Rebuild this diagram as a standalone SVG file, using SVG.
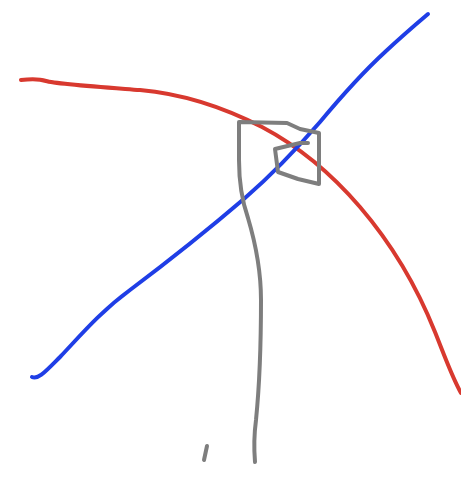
<svg xmlns="http://www.w3.org/2000/svg" width="461" height="481" viewBox="0 0 461 481">
<style>
.s{fill:none;stroke-linecap:round;stroke-linejoin:round;stroke-width:4}
.red{stroke:#d8392f}
.blue{stroke:#1f3ee6}
.gray{stroke:#7e7e7e}
</style>
<rect width="461" height="481" fill="#ffffff"/>
<g id="red-curve">
<path class="s red" d="M21,80 C30,79 40,79 46,81 C55,84 100,87 140,90 C185,94 225,108 262,127 C298,146 330,172 360,207 C390,242 415,282 435,332 C445,357 452,377 461,393"/>
</g>
<g id="blue-line">
<path class="s blue" d="M32,377 C38,380 45,372 60,357 C80,336 100,312 130,290 C170,260 210,228 245,198 C275,172 300,145 320,122 C340,98 360,75 385,52 C400,38 415,25 428,14"/>
</g>
<g id="gray-shape">
<path class="s gray" d="M255,462 C254,450 254,435 256,420 C259,390 261,340 261,300 C261,270 256,245 248,218 C241,198 239,178 239,160 L239,122 L287,123 L300,129 L319,133 L319,184 L298,179 L278,172 L275,149 L300,143 L308,143"/>
<path class="s gray" stroke-width="3.5" d="M207,446 L204,460"/>
</g>
</svg>
